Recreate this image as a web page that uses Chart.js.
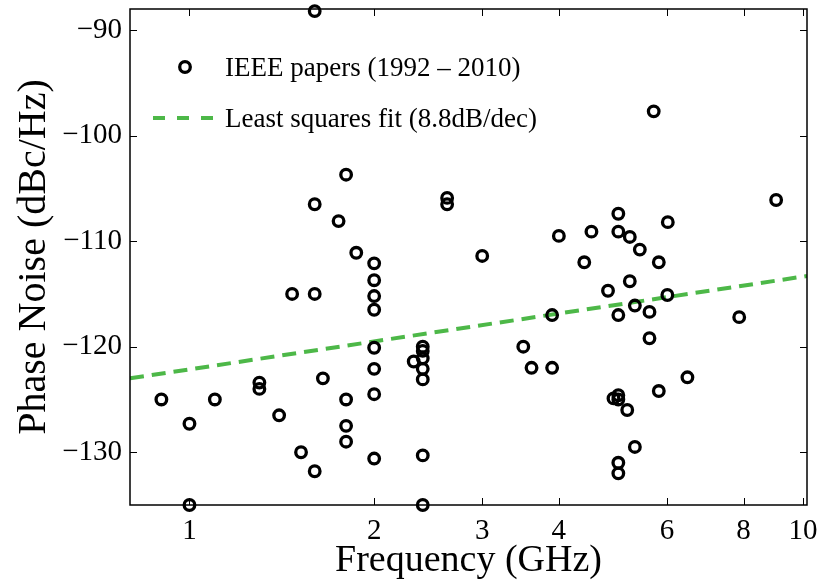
<!DOCTYPE html>
<html><head><meta charset="utf-8">
<script src="https://cdn.jsdelivr.net/npm/chart.js@4"></script>
<style>html,body{margin:0;padding:0;background:#fff}#wrap{width:823px;height:584px}</style>
</head><body><div id="wrap"><canvas id="c" width="823" height="584"></canvas></div>
<script>
const freqGHz = [0.9,1.0,1.0,1.1,1.3,1.3,1.4,1.47,1.52,1.6,1.6,1.6,1.6,1.65,1.75,1.8,1.8,1.8,1.8,1.87,
  2.0,2.0,2.0,2.0,2.0,2.0,2.0,2.0,2.32,2.4,2.4,2.4,2.4,2.4,2.4,2.4,2.63,2.63,3.0,3.5,3.61,3.9,3.9,4.0,
  4.4,4.52,4.81,5.0,5.0,5.0,5.22,5.22,5.42,5.32,5.62,5.62,5.82,6.01,6.02,5.71,9.04,7.87,6.48,5.82,4.91,
  5.0,5.0,5.17,5.32,5.0,5.0];
const phaseNoise = [-125.0,-127.3,-135,-125.0,-123.4,-124.0,-126.5,-115.0,-130.0,-88.2,-106.5,-115.0,-131.8,-123.0,-108.1,-103.7,-125.0,-127.5,-129.0,-111.1,
  -112.1,-113.7,-115.2,-116.5,-120.1,-122.1,-124.5,-130.6,-121.4,-120.0,-120.4,-121.1,-122.1,-123.1,-130.3,-135,-105.9,-106.5,-111.4,-120.0,-122.0,-122.0,-117.0,-109.5,
  -112.0,-109.1,-114.7,-107.4,-109.1,-117.0,-113.8,-109.6,-110.8,-116.1,-116.7,-119.2,-112.0,-115.1,-108.2,-97.7,-106.1,-117.2,-122.9,-124.2,-124.9,
  -124.6,-125.0,-126.0,-129.5,-131.0,-132.0];
const fitFreq = [0.8, 10.15];
const fitNoise = [-123.0, -113.3];
const xTicks = [1,2,3,4,6,8,10];
const yTicks = [-130,-120,-110,-100,-90];
const seriesLabels = ['IEEE papers (1992 \u2013 2010)', 'Least squares fit (8.8dB/dec)'];

const GREEN = 'rgb(77,184,72)';
const FONT = '"Liberation Serif", "Times New Roman", serif';

const framePlugin = {
  id: 'frame',
  afterDatasetsDraw(chart) {
    const {ctx, chartArea: a, scales: {x, y}} = chart;
    ctx.save();
    ctx.strokeStyle = '#000';
    ctx.lineWidth = 1.5;
    ctx.strokeRect(a.left, a.top, a.right - a.left, a.bottom - a.top);
    ctx.lineWidth = 1;
    const L = 7;
    ctx.beginPath();
    xTicks.forEach(v => {
      const px = Math.round(x.getPixelForValue(v)) + 0.5;
      ctx.moveTo(px, a.bottom); ctx.lineTo(px, a.bottom - L);
      ctx.moveTo(px, a.top); ctx.lineTo(px, a.top + L);
    });
    yTicks.forEach(v => {
      const py = Math.round(y.getPixelForValue(v)) + 0.5;
      ctx.moveTo(a.left, py); ctx.lineTo(a.left + L, py);
      ctx.moveTo(a.right, py); ctx.lineTo(a.right - L, py);
    });
    ctx.stroke();
    // legend
    ctx.font = '27px ' + FONT;
    ctx.fillStyle = '#000';
    ctx.textBaseline = 'alphabetic';
    ctx.textAlign = 'left';
    ctx.beginPath();
    ctx.lineWidth = 3.3;
    ctx.arc(185, 67, 5.3, 0, Math.PI * 2);
    ctx.stroke();
    ctx.fillText(chart.data.datasets[0].label, 225, 76);
    ctx.beginPath();
    ctx.strokeStyle = GREEN;
    ctx.lineWidth = 4;
    ctx.setLineDash([12, 12]);
    ctx.moveTo(153, 118); ctx.lineTo(214, 118);
    ctx.stroke();
    ctx.setLineDash([]);
    ctx.fillText(chart.data.datasets[1].label, 225, 127);
    ctx.restore();
  }
};

new Chart(document.getElementById('c'), {
  type: 'scatter',
  data: {
    datasets: [
      {
        label: seriesLabels[0],
        data: freqGHz.map((f, i) => ({x: f, y: phaseNoise[i]})),
        pointStyle: 'circle',
        pointRadius: 5.3,
        pointHoverRadius: 5.3,
        borderWidth: 3.3,
        borderColor: '#000',
        backgroundColor: 'rgba(0,0,0,0)',
        clip: false,
        order: 0
      },
      {
        label: seriesLabels[1],
        type: 'line',
        data: fitFreq.map((f, i) => ({x: f, y: fitNoise[i]})),
        borderColor: GREEN,
        borderWidth: 4,
        borderDash: [14, 8],
        pointRadius: 0,
        fill: false,
        order: 1
      }
    ]
  },
  options: {
    responsive: false,
    animation: false,
    layout: {padding: {left: 0, right: 16, top: 9, bottom: 0}},
    plugins: {legend: {display: false}, tooltip: {enabled: false}},
    scales: {
      x: {
        type: 'logarithmic',
        min: 0.8, max: 10.15,
        afterBuildTicks(s) { s.ticks = xTicks.map(v => ({value: v})); },
        afterFit(s) { s.height = 584 - 505; s.paddingLeft = 0; s.paddingRight = 0; },
        grid: {display: false, drawTicks: false},
        border: {display: false},
        ticks: {
          color: '#000', font: {family: FONT, size: 29}, padding: 9,
          maxRotation: 0, autoSkip: false,
          callback: v => String(v)
        },
        title: {display: true, text: 'Frequency (GHz)', color: '#000',
          font: {family: FONT, size: 38}, padding: {top: 0, bottom: 0}}
      },
      y: {
        min: -135, max: -88,
        afterBuildTicks(s) { s.ticks = yTicks.map(v => ({value: v})); },
        afterFit(s) { s.width = 130; s.paddingTop = 0; s.paddingBottom = 0; },
        grid: {display: false, drawTicks: false},
        border: {display: false},
        ticks: {
          color: '#000', font: {family: FONT, size: 29}, padding: 8,
          callback: v => String(v).replace('-', '\u2212')
        },
        title: {display: true, text: 'Phase Noise (dBc/Hz)', color: '#000',
          font: {family: FONT, size: 40}, padding: {top: 10, bottom: 0}}
      }
    }
  },
  plugins: [framePlugin]
});
</script></body></html>
